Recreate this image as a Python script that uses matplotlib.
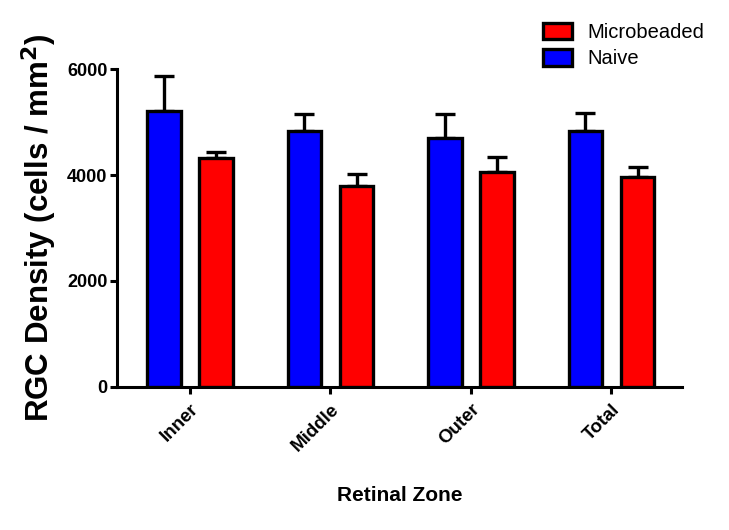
import matplotlib
matplotlib.use("Agg")
import matplotlib.pyplot as plt
import numpy as np

categories = ["Inner", "Middle", "Outer", "Total"]
naive = [5220, 4830, 4710, 4830]
naive_err = [650, 320, 440, 350]
micro = [4320, 3790, 4060, 3970]
micro_err = [115, 240, 285, 190]
yticks = [0, 2000, 4000, 6000]

plt.rcParams['font.family'] = ['Liberation Sans', 'DejaVu Sans']

fig = plt.figure(figsize=(7.29, 5.30), dpi=100)
ax = fig.add_axes([0.1605, 0.2704, 0.935 - 0.1605, 0.8692 - 0.2704])

x = np.arange(len(categories))
off = 0.186
w = 0.238
lw = 2.4
ax.bar(x - off, naive, w, color='#0000ff', edgecolor='black', linewidth=lw, label='Naive', zorder=3)
ax.bar(x + off, micro, w, color='#ff0000', edgecolor='black', linewidth=lw, label='Microbeaded', zorder=3)
ekw = dict(fmt='none', ecolor='black', elinewidth=lw, capsize=7, capthick=lw, zorder=2)
ax.errorbar(x - off, naive, yerr=[np.zeros(4), naive_err], **ekw)
ax.errorbar(x + off, micro, yerr=[np.zeros(4), micro_err], **ekw)

ax.set_xlim(-0.52, 3.5)
ax.set_ylim(0, 6000)
ax.set_yticks(yticks)
ax.set_yticklabels([str(v) for v in yticks], fontweight='bold', fontsize=13)
ax.set_xticks(x)
ax.set_xticklabels(categories, rotation=45, ha='right', rotation_mode='anchor',
                   fontweight='bold', fontsize=13.5)
for s in ['top', 'right']:
    ax.spines[s].set_visible(False)
for s in ['left', 'bottom']:
    ax.spines[s].set_linewidth(2.2)
ax.tick_params(axis='y', width=2.2, length=5, direction='out', pad=2)
ax.tick_params(axis='x', width=2.2, length=5, direction='out', pad=5)
ax.set_ylabel('RGC Density (cells / mm$^\\mathbf{2}$)', fontsize=22.5, fontweight='bold', labelpad=6)
ax.set_xlabel('Retinal Zone', fontsize=15, fontweight='bold', labelpad=23)

h, l = ax.get_legend_handles_labels()
leg = fig.legend([h[1], h[0]], [l[1], l[0]], loc='upper left', bbox_to_anchor=(0.72, 0.99),
                 frameon=False, fontsize=14.5, handlelength=1.45, handleheight=0.85,
                 labelspacing=0.35, handletextpad=0.75)
fig.savefig('out.png', dpi=100)
